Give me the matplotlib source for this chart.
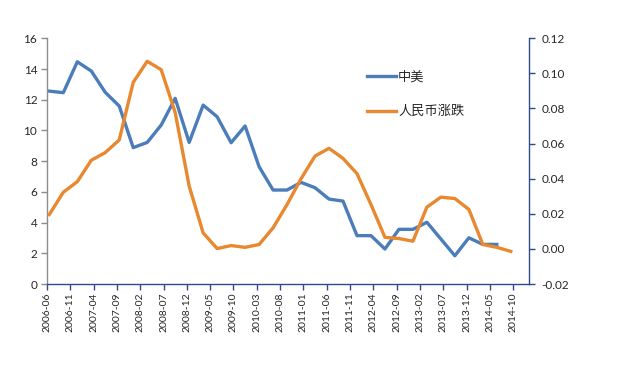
import matplotlib
matplotlib.use("Agg")
import matplotlib.pyplot as plt
from matplotlib.lines import Line2D

plt.rcParams['font.family'] = ['Lato', 'Noto Sans CJK SC', 'DejaVu Sans']

# quarterly observation months (mid-month)
months = ["2006-06", "2006-09", "2006-12", "2007-03", "2007-06", "2007-09", "2007-12",
          "2008-03", "2008-06", "2008-09", "2008-12", "2009-03", "2009-06", "2009-09",
          "2009-12", "2010-03", "2010-06", "2010-09", "2010-12", "2011-03", "2011-06",
          "2011-09", "2011-12", "2012-03", "2012-06", "2012-09", "2012-12", "2013-03",
          "2013-06", "2013-09", "2013-12", "2014-03", "2014-06", "2014-09"]

zhongmei = [12.56, 12.46, 14.47, 13.87, 12.48, 11.59, 8.88, 9.22, 10.35, 12.09,
            9.22, 11.65, 10.89, 9.20, 10.29, 7.64, 6.12, 6.12, 6.62, 6.27,
            5.53, 5.40, 3.15, 3.15, 2.28, 3.56, 3.56, 4.02, 2.93, 1.84,
            3.01, 2.58, 2.58]

rmb = [0.0196, 0.0323, 0.0383, 0.0505, 0.0549, 0.0621, 0.0949, 0.1069, 0.1021, 0.0777,
       0.0358, 0.0091, 0.0002, 0.0019, 0.0009, 0.0025, 0.0120, 0.0253, 0.0400, 0.0529,
       0.0573, 0.0516, 0.0429, 0.0253, 0.0066, 0.0059, 0.0044, 0.0238, 0.0295, 0.0287,
       0.0225, 0.0025, 0.0009, -0.0014]

tick_labels = ["2006-06", "2006-11", "2007-04", "2007-09", "2008-02", "2008-07", "2008-12",
               "2009-05", "2009-10", "2010-03", "2010-08", "2011-01", "2011-06", "2011-11",
               "2012-04", "2012-09", "2013-02", "2013-07", "2013-12", "2014-05", "2014-10"]

left_ticks = [0, 2, 4, 6, 8, 10, 12, 14, 16]
right_ticks = [-0.02, 0.00, 0.02, 0.04, 0.06, 0.08, 0.10, 0.12]


def month_index(s):
    y, m = s.split("-")
    return (int(y) - 2006) * 12 + (int(m) - 6)


x_all = [month_index(m) + 0.5 for m in months]
tick_pos = [month_index(t) for t in tick_labels]

blue = '#4A7DBA'
orange = '#E8882F'
navy = '#2E4C8C'

fig = plt.figure(figsize=(6.2, 3.7), dpi=100)
ax = fig.add_axes([0.0758, 0.2324, 0.7774, 0.6641])
ax2 = ax.twinx()

ax.plot(x_all[:len(zhongmei)], zhongmei, color=blue, lw=2.4, solid_joinstyle='round')
ax2.plot(x_all, rmb, color=orange, lw=2.4, solid_joinstyle='round')

ax.set_xlim(0, 103.4)
ax.set_ylim(0, 16)
ax2.set_ylim(-0.02, 0.12)

ax.set_yticks(left_ticks)
ax.set_yticklabels([str(v) for v in left_ticks], fontsize=8.5)
ax2.set_yticks(right_ticks)
ax2.set_yticklabels([f"{v:.2f}" for v in right_ticks], fontsize=8.5)
ax.set_xticks(tick_pos)
ax.set_xticklabels(tick_labels, rotation=90, fontsize=7.5)

ax.spines['top'].set_visible(False)
ax2.spines['top'].set_visible(False)
ax.spines['right'].set_visible(False)
ax2.spines['left'].set_visible(False)
ax2.spines['bottom'].set_visible(False)
ax.spines['left'].set_color('#8C8C8C')
ax.spines['bottom'].set_color(navy)
ax2.spines['right'].set_color(navy)
for sp in [ax.spines['left'], ax.spines['bottom'], ax2.spines['right']]:
    sp.set_linewidth(1.0)

ax.tick_params(axis='y', colors='#8C8C8C', labelcolor='#262626', length=4, width=1, pad=3)
ax.tick_params(axis='x', colors=navy, labelcolor='#262626', length=4, width=1, pad=2)
ax2.tick_params(axis='y', colors=navy, labelcolor='#262626', length=4, width=1, pad=5)

handles = [Line2D([], [], color=blue, lw=2.4), Line2D([], [], color=orange, lw=2.4)]
leg = fig.legend(handles, ["中美", "人民币涨跌"], loc='upper left',
                 bbox_to_anchor=(0.572, 0.84), frameon=False,
                 handlelength=2.2, handletextpad=0.2, labelspacing=1.6,
                 prop={'family': ['Noto Sans CJK SC', 'DejaVu Sans'], 'size': 9.5})
for t in leg.get_texts():
    t.set_color('#262626')

fig.savefig("out.png", dpi=100)
